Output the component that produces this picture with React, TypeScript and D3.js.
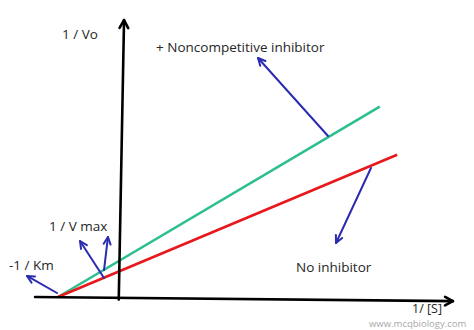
import React from "react";
import * as d3 from "d3";

// Lineweaver-Burk plot (data units: x = 1/[S], y = 1/Vo)
const seriesNames = ["+ Noncompetitive inhibitor", "No inhibitor"];
const seriesColors = ["#2dbf8c", "#e8171c"];
const seriesX0 = [-1, -1]; // -1/Km (same Km)
const seriesX1 = [4.19, 4.47];
const seriesInvVmax = [1.41, 1.0]; // y-intercepts 1/Vmax

// annotation arrows [x1, y1, x2, y2] in data units (tail -> head)
const arrowKm = [-1.016, 0.154, -1.5, 0.808];
const arrowVmaxA = [-0.258, 0.731, -0.645, 2.154];
const arrowVmaxB = [-0.258, 1.038, -0.194, 2.308];
const arrowNonComp = [3.355, 6.192, 2.226, 9.192];
const arrowNoInh = [4.048, 4.962, 3.484, 2.077];
const annotationArrows = [arrowKm, arrowVmaxA, arrowVmaxB, arrowNonComp, arrowNoInh];

const W = 474;
const H = 330;

const x = d3.scaleLinear().domain([-1.5, 5.5]).range([27, 461]);
const y = d3.scaleLinear().domain([0, 11]).range([297, 11]);

function arrowHead(x1: number, y1: number, x2: number, y2: number, len: number, spread: number) {
  const a = Math.atan2(y2 - y1, x2 - x1);
  const p1 = [x2 - len * Math.cos(a - spread), y2 - len * Math.sin(a - spread)];
  const p2 = [x2 - len * Math.cos(a + spread), y2 - len * Math.sin(a + spread)];
  return `M${p1[0]},${p1[1]}L${x2},${y2}L${p2[0]},${p2[1]}`;
}

export default function App() {
  const line = d3
    .line<[number, number]>()
    .x((d) => x(d[0]))
    .y((d) => y(d[1]));

  const font = "'Open Sans', 'Noto Sans', sans-serif";
  const txt = "#262626";

  // axes (slightly hand-drawn tilt like the reference)
  const xAxis = { x1: x(-1.37), y1: y(0), x2: x(5.37), y2: y(-0.16) };
  const yAxis = { x1: x(-0.02), y1: y(-0.1), x2: x(0.065), y2: y(10.65) };

  return (
    <svg
      width={W}
      height={H}
      style={{ position: "absolute", left: 0, top: 0, background: "#fff" }}
      fontFamily={font}
    >
      <rect width={W} height={H} fill="#fff" />
      {/* series lines */}
      {seriesNames.map((n, i) => {
        const pts: [number, number][] = [seriesX0[i], seriesX1[i]].map((xv) => [
          xv,
          seriesInvVmax[i] * (1 - xv / seriesX0[i]),
        ]);
        return (
          <path key={n} d={line(pts) || ""} stroke={seriesColors[i]} strokeWidth={2.6} fill="none" />
        );
      })}
      {/* axes */}
      <g stroke="#000" strokeWidth={2.6} fill="none" strokeLinecap="round" strokeLinejoin="round">
        <line x1={xAxis.x1} y1={xAxis.y1} x2={xAxis.x2} y2={xAxis.y2} />
        <path d={arrowHead(xAxis.x1, xAxis.y1, xAxis.x2, xAxis.y2, 9, 0.5)} />
        <line x1={yAxis.x1} y1={yAxis.y1} x2={yAxis.x2} y2={yAxis.y2} />
        <path d={arrowHead(yAxis.x1, yAxis.y1, yAxis.x2, yAxis.y2, 9, 0.5)} />
      </g>
      {/* annotation arrows */}
      <g stroke="#2b2bb0" strokeWidth={2} fill="none" strokeLinecap="round" strokeLinejoin="round">
        {annotationArrows.map((a, i) => (
          <g key={i}>
            <line x1={x(a[0])} y1={y(a[1])} x2={x(a[2])} y2={y(a[3])} />
            <path d={arrowHead(x(a[0]), y(a[1]), x(a[2]), y(a[3]), 8, 0.45)} />
          </g>
        ))}
      </g>
      {/* labels */}
      <g fill={txt} fontSize={13.5}>
        <text x={62} y={39}>1 / Vo</text>
        <text x={156} y={52}>{seriesNames[0]}</text>
        <text x={296} y={272}>{seriesNames[1]}</text>
        <text x={49} y={231}>1 / V max</text>
        <text x={9} y={270}>-1 / Km</text>
        <text x={412} y={313} fontSize={12.5}>1/ [S]</text>
      </g>
      <text x={369} y={326.5} fill="#a8a8a8" fontSize={9.5}>www.mcqbiology.com</text>
    </svg>
  );
}
